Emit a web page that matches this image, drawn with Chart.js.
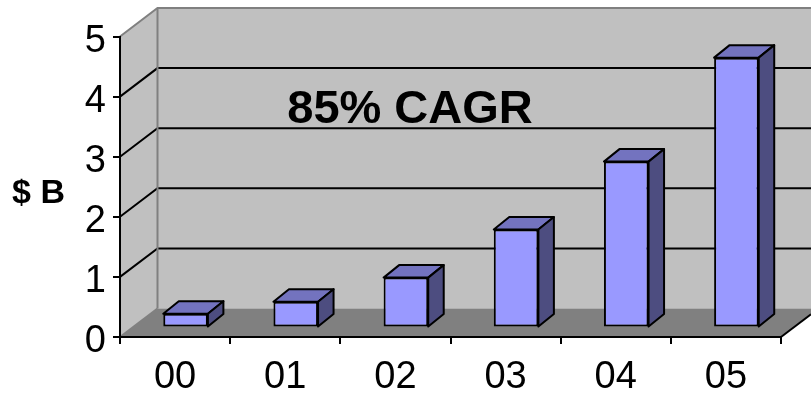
<!DOCTYPE html>
<html lang="en">
<head>
    <meta charset="UTF-8">
    <title>Revenue growth</title>
    <script src="https://cdn.jsdelivr.net/npm/chart.js"></script>
    <style>
        body{
            margin: 0;
            background-color: white;
        }
        canvas{
            display: block;
        }
    </style>
</head>
<body>
    <canvas id="growth-chart" width="811" height="393"></canvas>

    <script>
        const years = ['00', '01', '02', '03', '04', '05'];
        const revenue = [0.23, 0.43, 0.83, 1.63, 2.76, 4.49];
        const yMin = 0;
        const yMax = 5;

        const fontName = '"Liberation Sans", Arial, sans-serif';

        // depth of the box behind the axes, and of each column
        const wallDepth = { x: 37.5, y: -28.5 };
        const barDepth = { x: 15.5, y: -12.5 };
        const barShift = { x: 10.5, y: -9.5 };

        function fillPoly(ctx, points, color) {
            ctx.beginPath();
            points.forEach((p, i) => i ? ctx.lineTo(p[0], p[1]) : ctx.moveTo(p[0], p[1]));
            ctx.closePath();
            ctx.fillStyle = color;
            ctx.fill();
        }

        function strokeLine(ctx, points, color, width) {
            ctx.beginPath();
            points.forEach((p, i) => i ? ctx.lineTo(p[0], p[1]) : ctx.moveTo(p[0], p[1]));
            ctx.strokeStyle = color;
            ctx.lineWidth = width;
            ctx.stroke();
        }

        // back wall, side wall and floor
        const boxPlugin = {
            id: 'box',
            beforeDraw(chart) {
                const ctx = chart.ctx;
                const a = chart.chartArea;
                const yScale = chart.scales.y;
                const dx = wallDepth.x;
                const dy = wallDepth.y;
                const edge = chart.width;
                const backLeft = a.left + dx;
                const backTop = a.top + dy;
                const backBottom = a.bottom + dy;
                const floorRun = edge - a.right;

                ctx.save();
                fillPoly(ctx, [[backLeft, backTop], [edge, backTop], [edge, backBottom], [backLeft, backBottom]], '#C0C0C0');
                fillPoly(ctx, [[a.left, a.top], [backLeft, backTop], [backLeft, backBottom], [a.left, a.bottom]], '#C0C0C0');
                fillPoly(ctx, [[a.left, a.bottom], [backLeft, backBottom], [edge, backBottom], [edge, a.bottom + dy * floorRun / dx], [a.right, a.bottom]], '#808080');

                yScale.ticks.forEach(t => {
                    if (t.value === yMin || t.value === yMax) return;
                    const y = yScale.getPixelForValue(t.value);
                    strokeLine(ctx, [[a.left, y], [backLeft, y + dy], [edge, y + dy]], 'black', 2);
                });

                strokeLine(ctx, [[a.left, a.top], [backLeft, backTop], [edge, backTop]], '#808080', 2);
                strokeLine(ctx, [[backLeft, backTop], [backLeft, backBottom]], '#808080', 2);
                strokeLine(ctx, [[a.left, a.bottom], [backLeft, backBottom]], '#808080', 2);
                strokeLine(ctx, [[a.right, a.bottom], [edge, a.bottom + dy * floorRun / dx]], 'black', 2);
                ctx.restore();
            },
            // top and side of each column, then the fronts get drawn by the bar controller
            beforeDatasetsDraw(chart) {
                const ctx = chart.ctx;
                ctx.save();
                ctx.translate(barShift.x, barShift.y);
                ctx.lineJoin = 'round';
                chart.getDatasetMeta(0).data.forEach(bar => {
                    const left = bar.x - bar.width / 2;
                    const right = bar.x + bar.width / 2;
                    const top = bar.y;
                    const bottom = bar.base;
                    const dx = barDepth.x;
                    const dy = barDepth.y;
                    const topFace = [[left, top], [left + dx, top + dy], [right + dx, top + dy], [right, top]];
                    const sideFace = [[right, top], [right + dx, top + dy], [right + dx, bottom + dy], [right, bottom]];
                    fillPoly(ctx, topFace, '#7373BF');
                    ctx.strokeStyle = 'black';
                    ctx.lineWidth = 2;
                    ctx.stroke();
                    fillPoly(ctx, sideFace, '#4D4D80');
                    ctx.stroke();
                });
            },
            afterDatasetsDraw(chart) {
                const ctx = chart.ctx;
                const yScale = chart.scales.y;
                ctx.restore();

                ctx.save();
                ctx.fillStyle = 'black';
                ctx.textBaseline = 'alphabetic';
                ctx.textAlign = 'center';
                ctx.font = 'bold 47px ' + fontName;
                ctx.fillText('85% CAGR', 410, 123);
                ctx.font = 'bold 34px ' + fontName;
                ctx.fillText('$ B', 38.5, 203);

                // value labels sit a little below their tick marks
                ctx.textAlign = 'right';
                ctx.font = '38px ' + fontName;
                yScale.ticks.forEach(t => {
                    ctx.fillText(t.label, 106, yScale.getPixelForValue(t.value) + 15);
                });
                ctx.restore();
            }
        };

        new Chart(document.getElementById('growth-chart').getContext('2d'), {
            type: 'bar',
            data: {
                labels: years,
                datasets: [{
                    data: revenue,
                    backgroundColor: '#9999FF',
                    borderColor: 'black',
                    borderWidth: 2,
                    borderSkipped: false,
                    barPercentage: 0.405,
                    categoryPercentage: 1,
                    clip: false
                }]
            },
            options: {
                responsive: false,
                animation: false,
                layout: {
                    padding: { top: 36.5, right: 30, left: 0, bottom: 0 }
                },
                plugins: {
                    legend: { display: false },
                    title: { display: false },
                    tooltip: { enabled: false }
                },
                scales: {
                    x: {
                        afterFit(scale) { scale.height = 56; },
                        grid: {
                            offset: true,
                            drawOnChartArea: false,
                            color: 'black',
                            lineWidth: 2,
                            tickLength: 7
                        },
                        border: { color: 'black', width: 2 },
                        ticks: {
                            color: 'black',
                            padding: 11,
                            maxRotation: 0,
                            font: { family: fontName, size: 38 }
                        }
                    },
                    y: {
                        min: yMin,
                        max: yMax,
                        afterFit(scale) { scale.width = 120; },
                        grid: {
                            drawOnChartArea: false,
                            color: 'black',
                            lineWidth: 2,
                            tickLength: 7
                        },
                        border: { color: 'black', width: 2 },
                        ticks: {
                            stepSize: 1,
                            display: false
                        }
                    }
                }
            },
            plugins: [boxPlugin]
        });
    </script>
</body>
</html>
